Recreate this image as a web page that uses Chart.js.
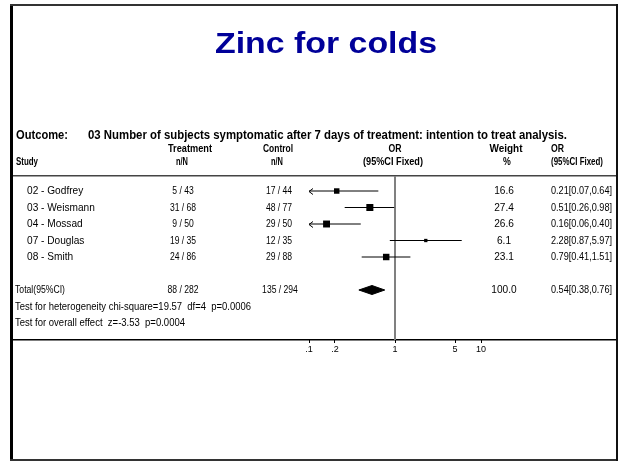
<!DOCTYPE html>
<html>
<head>
<meta charset="utf-8">
<title>Zinc for colds</title>
<script src="https://cdn.jsdelivr.net/npm/chart.js@4.4.1/dist/chart.umd.min.js"></script>
<style>
  html, body { margin: 0; padding: 0; background: #fff; }
  canvas { display: block; }
</style>
</head>
<body>
<canvas id="forest" width="621" height="461"></canvas>
<script>
// ---- data ----
const studies = ["02 - Godfrey", "03 - Weismann", "04 - Mossad", "07 - Douglas", "08 - Smith"];
const trtEvents = [5, 31, 9, 19, 24];
const trtTotal = [43, 68, 50, 35, 86];
const ctlEvents = [17, 48, 29, 12, 29];
const ctlTotal = [44, 77, 50, 35, 88];
const weights = [16.6, 27.4, 26.6, 6.1, 23.1];
const oddsRatio = [0.21, 0.51, 0.16, 2.28, 0.79];
const ciLow = [0.07, 0.26, 0.06, 0.87, 0.41];
const ciHigh = [0.64, 0.98, 0.40, 5.97, 1.51];

const totalTrt = [88, 282];
const totalCtl = [135, 294];
const totalWeight = 100.0;
const totalOR = [0.54, 0.38, 0.76]; // estimate, low, high

const tickValues = [0.1, 0.2, 1, 5, 10];
const tickLabels = [".1", ".2", "1", "5", "10"];

const titleText = "Zinc for colds";
const outcomeText = "03 Number of subjects symptomatic after 7 days of treatment: intention to treat analysis.";
const hetText = "Test for heterogeneity chi-square=19.57  df=4  p=0.0006";
const effectText = "Test for overall effect  z=-3.53  p=0.0004";

// row index of each line of the table (row 5 left blank)
const studyRows = [0, 1, 2, 3, 4];
const totalRow = 6, hetRow = 7, effectRow = 8;

const FONT = '"Liberation Sans", Arial, sans-serif';
const xMin = tickValues[0], xMax = tickValues[tickValues.length - 1];

function txt(ctx, s, x, y, o) {
  o = Object.assign({ size: 10.5, bold: false, align: "left", sx: 1, width: 0, color: "#000", base: "alphabetic" }, o);
  ctx.save();
  ctx.font = (o.bold ? "bold " : "") + o.size + "px " + FONT;
  ctx.fillStyle = o.color;
  ctx.textAlign = o.align;
  ctx.textBaseline = o.base;
  let sx = o.sx;
  if (o.width) sx = o.width / ctx.measureText(s).width;
  ctx.translate(x, y);
  ctx.scale(sx, 1);
  ctx.fillText(s, 0, 0);
  ctx.restore();
}

const fmtOR = (v, lo, hi) => v.toFixed(2) + "[" + lo.toFixed(2) + "," + hi.toFixed(2) + "]";

// frame, title, table text, reference line, arrows and pooled diamond
const forestDecor = {
  id: "forestDecor",
  beforeDraw(chart) {
    const ctx = chart.ctx;
    ctx.save();
    ctx.fillStyle = "#fff";
    ctx.fillRect(0, 0, chart.width, chart.height);
    // slide frame
    ctx.fillStyle = "#000";
    ctx.fillRect(10, 4, 3, 457);
    ctx.fillStyle = "#333";
    ctx.fillRect(10, 4, 608, 2);
    ctx.fillRect(10, 459, 608, 2);
    ctx.fillStyle = "#111";
    ctx.fillRect(616, 4, 2, 457);
    ctx.restore();
  },
  beforeDatasetsDraw(chart) {
    const ctx = chart.ctx, x = chart.scales.x, a = chart.chartArea;
    ctx.save();
    // header rule and axis rule
    ctx.fillStyle = "#444";
    ctx.fillRect(13, a.top - 1, 603, 1.5);
    ctx.fillStyle = "#000";
    ctx.fillRect(13, a.bottom - 1, 603, 1.5);
    // line of no effect
    ctx.strokeStyle = "#808080";
    ctx.lineWidth = 2;
    ctx.beginPath();
    const px = Math.round(x.getPixelForValue(1));
    ctx.moveTo(px, a.top);
    ctx.lineTo(px, a.bottom);
    ctx.stroke();
    ctx.restore();
  },
  afterDatasetsDraw(chart) {
    const ctx = chart.ctx, x = chart.scales.x, y = chart.scales.y;

    // arrows where CI runs past the axis
    ctx.save();
    ctx.strokeStyle = "#000";
    ctx.lineWidth = 1;
    studies.forEach((s, i) => {
      const py = Math.round(y.getPixelForValue(studyRows[i])) + 0.5;
      if (ciLow[i] < xMin) {
        const px = x.getPixelForValue(xMin);
        ctx.beginPath();
        ctx.moveTo(px + 4, py - 3);
        ctx.lineTo(px, py);
        ctx.lineTo(px + 4, py + 3);
        ctx.stroke();
      }
      if (ciHigh[i] > xMax) {
        const px = x.getPixelForValue(xMax);
        ctx.beginPath();
        ctx.moveTo(px - 4, py - 3);
        ctx.lineTo(px, py);
        ctx.lineTo(px - 4, py + 3);
        ctx.stroke();
      }
    });

    // pooled diamond
    const dy = y.getPixelForValue(totalRow);
    ctx.fillStyle = "#000";
    ctx.strokeStyle = "#000";
    ctx.beginPath();
    ctx.moveTo(x.getPixelForValue(totalOR[1]), dy);
    ctx.lineTo(x.getPixelForValue(totalOR[0]), dy - 4.5);
    ctx.lineTo(x.getPixelForValue(totalOR[2]), dy);
    ctx.lineTo(x.getPixelForValue(totalOR[0]), dy + 4.5);
    ctx.closePath();
    ctx.fill();
    ctx.stroke();
    ctx.restore();

    // title
    txt(ctx, titleText, 326, 53, { size: 30, bold: true, align: "center", width: 222, color: "#000099" });

    // headers
    txt(ctx, "Outcome:", 16, 139, { size: 12, bold: true, width: 52 });
    txt(ctx, outcomeText, 88, 139, { size: 12, bold: true, width: 479 });
    txt(ctx, "Treatment", 190, 152, { size: 11, bold: true, align: "center", width: 44 });
    txt(ctx, "Control", 278, 152, { size: 11, bold: true, align: "center", width: 30 });
    txt(ctx, "OR", 395, 152, { size: 11, bold: true, align: "center", width: 13 });
    txt(ctx, "Weight", 506, 152, { size: 11, bold: true, align: "center", width: 33 });
    txt(ctx, "OR", 551, 152, { size: 11, bold: true, width: 13 });
    txt(ctx, "Study", 16, 165, { size: 11, bold: true, width: 22 });
    txt(ctx, "n/N", 182, 165, { size: 11, bold: true, align: "center", width: 12 });
    txt(ctx, "n/N", 277, 165, { size: 11, bold: true, align: "center", width: 12 });
    txt(ctx, "(95%CI Fixed)", 393, 165, { size: 11, bold: true, align: "center", width: 60 });
    txt(ctx, "%", 507, 165, { size: 11, bold: true, align: "center", sx: 0.8 });
    txt(ctx, "(95%CI Fixed)", 551, 165, { size: 11, bold: true, width: 52 });

    // study rows
    studies.forEach((s, i) => {
      const py = y.getPixelForValue(studyRows[i]);
      const m = { base: "middle", size: 11 };
      txt(ctx, s, 27, py, Object.assign({ sx: 0.92 }, m));
      txt(ctx, trtEvents[i] + " / " + trtTotal[i], 183, py, Object.assign({ align: "center", sx: 0.78 }, m));
      txt(ctx, ctlEvents[i] + " / " + ctlTotal[i], 279, py, Object.assign({ align: "center", sx: 0.78 }, m));
      txt(ctx, weights[i].toFixed(1), 504, py, Object.assign({ align: "center", sx: 0.92 }, m));
      txt(ctx, fmtOR(oddsRatio[i], ciLow[i], ciHigh[i]), 551, py, Object.assign({ width: 61 }, m));
    });

    // total and tests
    const ty = y.getPixelForValue(totalRow);
    const m = { base: "middle", size: 11 };
    txt(ctx, "Total(95%CI)", 15, ty, Object.assign({ width: 50 }, m));
    txt(ctx, totalTrt[0] + " / " + totalTrt[1], 183, ty, Object.assign({ align: "center", sx: 0.78 }, m));
    txt(ctx, totalCtl[0] + " / " + totalCtl[1], 280, ty, Object.assign({ align: "center", sx: 0.78 }, m));
    txt(ctx, totalWeight.toFixed(1), 504, ty, Object.assign({ align: "center", sx: 0.92 }, m));
    txt(ctx, fmtOR(totalOR[0], totalOR[1], totalOR[2]), 551, ty, Object.assign({ width: 61 }, m));
    txt(ctx, hetText, 15, y.getPixelForValue(hetRow), Object.assign({ width: 236 }, m));
    txt(ctx, effectText, 15, y.getPixelForValue(effectRow), Object.assign({ width: 170 }, m));
  }
};

// one short line per study for the confidence interval
const ciSets = studies.map((s, i) => ({
  type: "line",
  label: s,
  data: [{ x: ciLow[i], y: studyRows[i] }, { x: ciHigh[i], y: studyRows[i] }],
  borderColor: "#000",
  borderWidth: 1,
  pointRadius: 0,
  fill: false
}));

const squareSet = {
  type: "scatter",
  label: "OR",
  data: oddsRatio.map((v, i) => ({ x: v, y: studyRows[i] })),
  pointStyle: "rect",
  pointRadius: weights.map(w => 0.95 * Math.sqrt(w)),
  backgroundColor: "#000",
  borderColor: "#000",
  borderWidth: 0
};

new Chart(document.getElementById("forest"), {
  type: "scatter",
  data: { datasets: [...ciSets, squareSet] },
  options: {
    responsive: false,
    animation: false,
    devicePixelRatio: 1,
    layout: { padding: { left: 309, right: 140, top: 176, bottom: 101 } },
    plugins: { legend: { display: false }, tooltip: { enabled: false }, title: { display: false } },
    scales: {
      x: {
        type: "logarithmic",
        min: xMin,
        max: xMax,
        position: "bottom",
        border: { display: false },
        grid: { drawOnChartArea: false, drawTicks: true, tickLength: 3, color: "#000" },
        afterBuildTicks: s => { s.ticks = tickValues.map(v => ({ value: v })); },
        afterFit: s => { s.height = 20; },
        ticks: {
          autoSkip: false,
          maxRotation: 0,
          padding: 1,
          color: "#000",
          font: { family: FONT, size: 9 },
          callback: (v) => tickLabels[tickValues.indexOf(v)]
        }
      },
      y: { type: "linear", min: -0.91, max: 9.03, reverse: true, display: false }
    }
  },
  plugins: [forestDecor]
});
</script>
</body>
</html>
